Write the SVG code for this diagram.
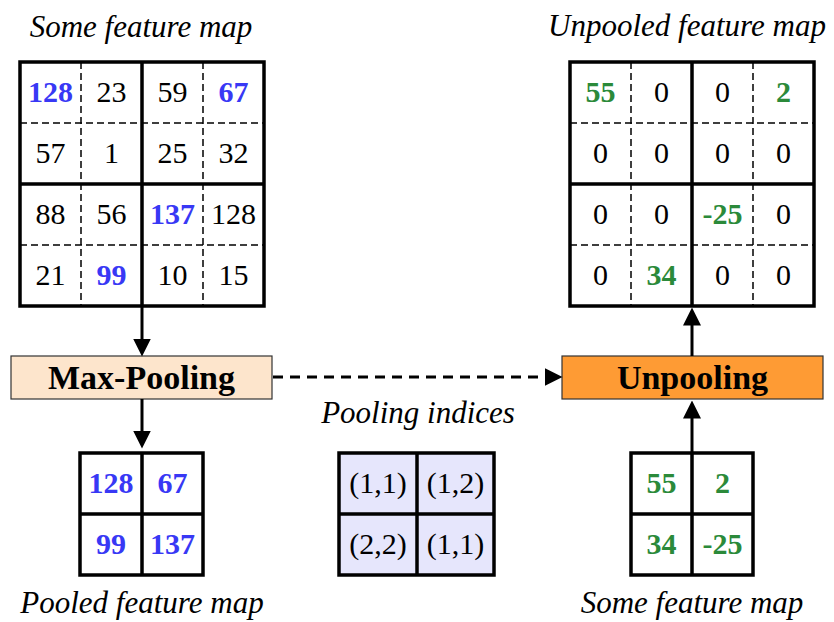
<svg xmlns="http://www.w3.org/2000/svg" width="834" height="622" viewBox="0 0 834 622">
<defs>
<style>
text{font-family:"Liberation Serif","Times New Roman",serif;fill:#000;}
.lbl{font-size:31px;font-style:italic;text-anchor:middle;}
.num{font-size:30px;text-anchor:middle;}
.b{font-weight:bold;}
.blue{fill:#3838F5;}
.green{fill:#2B8A3A;}
.op{font-size:34px;font-weight:bold;text-anchor:middle;}
.outer{fill:#fff;stroke:#000;stroke-width:3.5;}
.thick{stroke:#000;stroke-width:3.5;fill:none;}
.dash{stroke:#000;stroke-width:1.5;stroke-dasharray:7 4;fill:none;}
.conn{stroke:#000;stroke-width:3;fill:none;}
</style>
<marker id="ah" markerUnits="userSpaceOnUse" markerWidth="18" markerHeight="18" viewBox="0 0 16 16" refX="4" refY="8" orient="auto">
<path d="M0,0 L16,8 L0,16 z" fill="#000"/>
</marker>
</defs>
<rect width="834" height="622" fill="#fff"/>

<g id="input-map">
<text class="lbl" x="141" y="37">Some feature map</text>
<rect class="outer" x="20" y="62" width="244" height="244"/>
<path class="dash" d="M81,62V306M203,62V306M20,123H264M20,245H264"/>
<path class="thick" d="M142,62V306M20,184H264"/>
<text class="num b blue" x="50.5" y="102">128</text>
<text class="num" x="111.5" y="102">23</text>
<text class="num" x="172.5" y="102">59</text>
<text class="num b blue" x="233.5" y="102">67</text>
<text class="num" x="50.5" y="163">57</text>
<text class="num" x="111.5" y="163">1</text>
<text class="num" x="172.5" y="163">25</text>
<text class="num" x="233.5" y="163">32</text>
<text class="num" x="50.5" y="224">88</text>
<text class="num" x="111.5" y="224">56</text>
<text class="num b blue" x="172.5" y="224">137</text>
<text class="num" x="233.5" y="224">128</text>
<text class="num" x="50.5" y="285">21</text>
<text class="num b blue" x="111.5" y="285">99</text>
<text class="num" x="172.5" y="285">10</text>
<text class="num" x="233.5" y="285">15</text>
</g>

<g id="unpooled-map">
<text class="lbl" x="687" y="36">Unpooled feature map</text>
<rect class="outer" x="570" y="62" width="244" height="244"/>
<path class="dash" d="M631,62V306M753,62V306M570,123H814M570,245H814"/>
<path class="thick" d="M692,62V306M570,184H814"/>
<text class="num b green" x="600.5" y="102">55</text>
<text class="num" x="661.5" y="102">0</text>
<text class="num" x="722.5" y="102">0</text>
<text class="num b green" x="783.5" y="102">2</text>
<text class="num" x="600.5" y="163">0</text>
<text class="num" x="661.5" y="163">0</text>
<text class="num" x="722.5" y="163">0</text>
<text class="num" x="783.5" y="163">0</text>
<text class="num" x="600.5" y="224">0</text>
<text class="num" x="661.5" y="224">0</text>
<text class="num b green" x="722.5" y="224">-25</text>
<text class="num" x="783.5" y="224">0</text>
<text class="num" x="600.5" y="285">0</text>
<text class="num b green" x="661.5" y="285">34</text>
<text class="num" x="722.5" y="285">0</text>
<text class="num" x="783.5" y="285">0</text>
</g>

<g id="max-pooling">
<rect x="11" y="356" width="261" height="43" fill="#FDE5CC" stroke="#333" stroke-width="1.2"/>
<text class="op" x="141.5" y="389">Max-Pooling</text>
</g>

<g id="unpooling">
<rect x="562" y="356" width="261" height="43" fill="#FE9B34" stroke="#333" stroke-width="1.2"/>
<text class="op" x="692.5" y="389">Unpooling</text>
</g>

<g id="pooled-map">
<rect class="outer" x="80" y="453" width="123" height="122"/>
<path class="thick" d="M142,453V575M80,514H203"/>
<text class="num b blue" x="111" y="493">128</text>
<text class="num b blue" x="172.5" y="493">67</text>
<text class="num b blue" x="111" y="554">99</text>
<text class="num b blue" x="172.5" y="554">137</text>
<text class="lbl" x="142" y="613">Pooled feature map</text>
</g>

<g id="pooling-indices">
<text class="lbl" x="418" y="423">Pooling indices</text>
<rect x="339" y="453" width="155" height="122" fill="#E6E6FC" stroke="#000" stroke-width="3.5"/>
<path class="thick" d="M417,453V575M339,514H494"/>
<text class="num" x="378" y="493">(1,1)</text>
<text class="num" x="455.5" y="493">(1,2)</text>
<text class="num" x="378" y="554">(2,2)</text>
<text class="num" x="455.5" y="554">(1,1)</text>
</g>

<g id="sparse-map">
<rect class="outer" x="631" y="453" width="122" height="122"/>
<path class="thick" d="M692,453V575M631,514H753"/>
<text class="num b green" x="661.5" y="493">55</text>
<text class="num b green" x="722.5" y="493">2</text>
<text class="num b green" x="661.5" y="554">34</text>
<text class="num b green" x="722.5" y="554">-25</text>
<text class="lbl" x="692" y="613">Some feature map</text>
</g>

<g id="connectors">
<line class="conn" x1="142" y1="306" x2="142" y2="343" marker-end="url(#ah)"/>
<line class="conn" x1="142" y1="399" x2="142" y2="435" marker-end="url(#ah)"/>
<line class="conn" x1="692" y1="453" x2="692" y2="414" marker-end="url(#ah)"/>
<line class="conn" x1="692" y1="356" x2="692" y2="321" marker-end="url(#ah)"/>
<line class="conn" x1="273" y1="377" x2="549" y2="377" stroke-dasharray="10 7" marker-end="url(#ah)"/>
</g>
</svg>
